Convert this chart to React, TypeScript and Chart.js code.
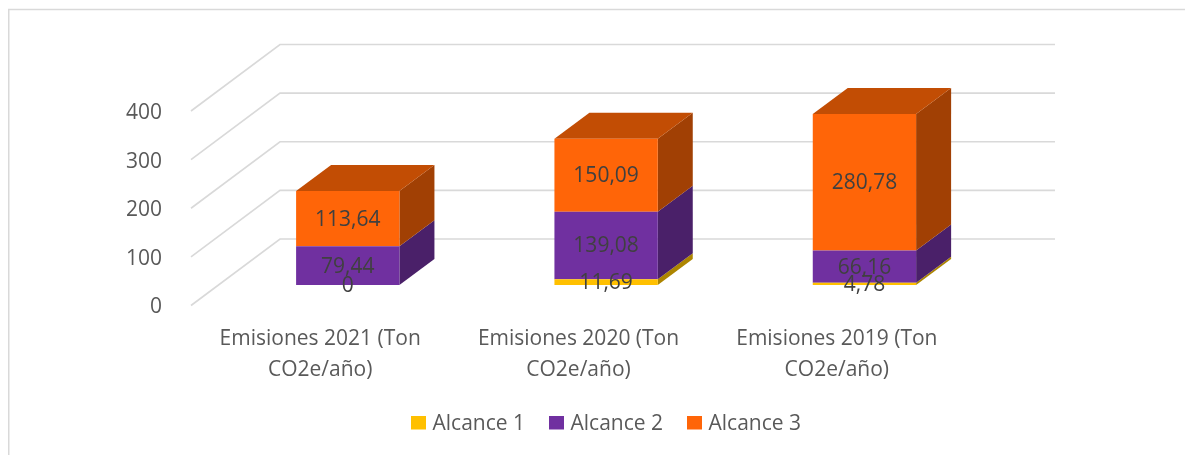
import React, { useEffect, useRef } from "react";
import { Chart, registerables } from "chart.js";

Chart.register(...registerables);

const categories = [
  ["Emisiones 2021 (Ton", "CO2e/año)"],
  ["Emisiones 2020 (Ton", "CO2e/año)"],
  ["Emisiones 2019 (Ton", "CO2e/año)"],
];
const alcance1 = [0, 11.69, 4.78];
const alcance2 = [79.44, 139.08, 66.16];
const alcance3 = [113.64, 150.09, 280.78];
const seriesNames = ["Alcance 1", "Alcance 2", "Alcance 3"];
const seriesColors = ["#FFC000", "#7030A0", "#FF6508"];

const FONT = "'Open Sans', sans-serif";
const FONT_SIZE = 21;

// 3D projection of the chart box
const GRID_LIFT = 2;
const WALL_DX = 89;
const WALL_DY = 66.5;
const BAR_SHIFT_X = 27.6;
const BAR_SHIFT_Y = 22.5;
const BAR_DX = 35;
const BAR_DY = 26;
const LEGEND_SHIFT = 125;

const sideColors = ["#AD8500", "#4A2069", "#A14004"];
const topColor = "#C24D04";

const swatch = (color: string) => {
  const c = document.createElement("canvas");
  c.width = 15;
  c.height = 18;
  const g = c.getContext("2d")!;
  g.fillStyle = color;
  g.fillRect(0, 0, 15, 14);
  return c;
};

const poly = (ctx: CanvasRenderingContext2D, pts: number[][], fill: string) => {
  ctx.beginPath();
  pts.forEach(([x, y], i) => (i ? ctx.lineTo(x, y) : ctx.moveTo(x, y)));
  ctx.closePath();
  ctx.fillStyle = fill;
  ctx.fill();
};

const box3d = {
  id: "box3d",
  afterLayout(chart: any) {
    chart.legend.left += LEGEND_SHIFT;
    chart.legend.right += LEGEND_SHIFT;
  },
  beforeDraw(chart: any) {
    const { ctx, width, height } = chart;
    ctx.save();
    ctx.fillStyle = "#fff";
    ctx.fillRect(0, 0, width, height);
    ctx.strokeStyle = "#D9D9D9";
    ctx.lineWidth = 1.5;
    ctx.beginPath();
    ctx.moveTo(8.75, height);
    ctx.lineTo(8.75, 9.5);
    ctx.lineTo(width, 9.5);
    ctx.stroke();
    ctx.restore();
  },
  beforeDatasetsDraw(chart: any) {
    const { ctx, chartArea, scales } = chart;
    ctx.save();
    ctx.strokeStyle = "#D9D9D9";
    ctx.lineWidth = 1.6;
    scales.y.ticks.forEach((t: any) => {
      const y = scales.y.getPixelForValue(t.value) - GRID_LIFT;
      ctx.beginPath();
      ctx.moveTo(chartArea.left, y);
      ctx.lineTo(chartArea.left + WALL_DX, y - WALL_DY);
      ctx.lineTo(chartArea.right + WALL_DX, y - WALL_DY);
      ctx.stroke();
    });
    ctx.restore();

    ctx.save();
    ctx.translate(BAR_SHIFT_X, BAR_SHIFT_Y * -1);
    const last = chart.data.datasets.length - 1;
    chart.data.datasets.forEach((_: any, di: number) => {
      chart.getDatasetMeta(di).data.forEach((el: any) => {
        const r = el.x + el.width / 2;
        const l = el.x - el.width / 2;
        if (Math.abs(el.base - el.y) > 0) {
          poly(
            ctx,
            [
              [r, el.y],
              [r + BAR_DX, el.y - BAR_DY],
              [r + BAR_DX, el.base - BAR_DY],
              [r, el.base],
            ],
            sideColors[di]
          );
        }
        if (di === last) {
          poly(
            ctx,
            [
              [l, el.y],
              [l + BAR_DX, el.y - BAR_DY],
              [r + BAR_DX, el.y - BAR_DY],
              [r, el.y],
            ],
            topColor
          );
        }
      });
    });
  },
  afterDatasetsDraw(chart: any) {
    const { ctx } = chart;
    ctx.restore();
    ctx.save();
    ctx.font = `${FONT_SIZE}px ${FONT}`;
    ctx.fillStyle = "#404040";
    ctx.textAlign = "center";
    ctx.textBaseline = "middle";
    chart.data.datasets.forEach((ds: any, di: number) => {
      chart.getDatasetMeta(di).data.forEach((el: any, i: number) => {
        const label = String(ds.data[i]).replace(".", ",");
        ctx.fillText(
          label,
          el.x + BAR_SHIFT_X,
          (el.y + el.base) / 2 - BAR_SHIFT_Y + 1
        );
      });
    });
    ctx.restore();
  },
};

export default function App() {
  const ref = useRef<HTMLCanvasElement>(null);
  useEffect(() => {
    const chart = new Chart(ref.current!, {
      type: "bar",
      data: {
        labels: categories,
        datasets: seriesNames.map((label, i) => ({
          label,
          data: [alcance1, alcance2, alcance3][i],
          backgroundColor: seriesColors[i],
          clip: false,
        })) as any,
      },
      options: {
        animation: false,
        responsive: false,
        layout: { padding: { left: 0, right: 219, top: 113, bottom: 10 } },
        datasets: { bar: { barPercentage: 1, categoryPercentage: 0.4 } },
        plugins: {
          tooltip: { enabled: false },
          legend: {
            position: "bottom",
            labels: {
              usePointStyle: true,
              pointStyleWidth: 7,
              boxHeight: 14,
              padding: 28,
              color: "#595959",
              font: { family: FONT, size: FONT_SIZE },
              generateLabels: () =>
                seriesNames.map((text, i) => ({
                  text,
                  fillStyle: seriesColors[i],
                  strokeStyle: seriesColors[i],
                  fontColor: "#595959",
                  lineWidth: 0,
                  pointStyle: swatch(seriesColors[i]),
                  datasetIndex: i,
                })),
            },
          },
        },
        scales: {
          x: {
            stacked: true,
            border: { display: false },
            grid: { display: false },
            afterFit: (s: any) => {
              s.height = 78.5;
            },
            ticks: {
              color: "#595959",
              padding: 8.5,
              maxRotation: 0,
              autoSkip: false,
              font: { family: FONT, size: FONT_SIZE, lineHeight: 1.45 },
            },
          },
          y: {
            stacked: true,
            min: 0,
            max: 400,
            border: { display: false },
            grid: { display: false },
            afterFit: (s: any) => {
              s.width = 191;
            },
            ticks: {
              stepSize: 100,
              color: "#595959",
              padding: 21,
              font: { family: FONT, size: FONT_SIZE },
            },
          },
        },
      } as any,
      plugins: [box3d],
    });
    return () => chart.destroy();
  }, []);
  return (
    <div style={{ position: "fixed", left: 0, top: 0, width: 1185, height: 455, background: "#fff" }}>
      <canvas ref={ref} width={1185} height={455} style={{ display: "block" }} />
    </div>
  );
}
